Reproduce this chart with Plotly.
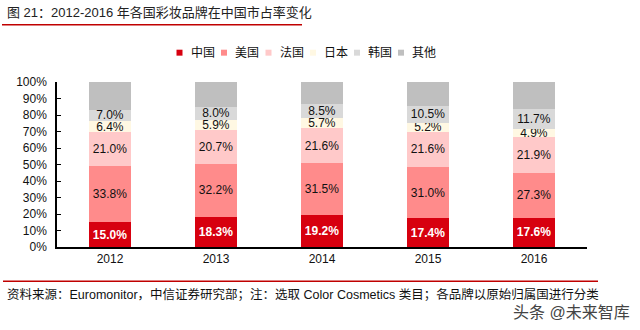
import plotly.graph_objects as go

W, H = 640, 330
ML, MR, MT, MB = 57, 53, 81.5, 82.5

years = ["2012", "2013", "2014", "2015", "2016"]
series_names = ["中国", "美国", "法国", "日本", "韩国", "其他"]
china = [15.0, 18.3, 19.2, 17.4, 17.6]
usa = [33.8, 32.2, 31.5, 31.0, 27.3]
france = [21.0, 20.7, 21.6, 21.6, 21.9]
japan = [6.4, 5.9, 5.7, 5.2, 4.9]
korea = [7.0, 8.0, 8.5, 10.5, 11.7]
other = [16.8, 14.9, 13.5, 14.3, 16.6]
colors = ["#D7000F", "#FF8B8B", "#FFC9C9", "#FFF8E3", "#D9D9D9", "#BFBFBF"]
series = [china, usa, france, japan, korea, other]
legend_swatch_x = [179.5, 224, 268.5, 313, 357, 401]

FONT = "Liberation Sans, Arial, Noto Sans CJK SC"
CJK = "Liberation Sans, Noto Sans CJK SC"

pw = W - ML - MR
ph = H - MT - MB
def px(x):
    return (x - ML) / pw
def py(y):
    return (H - MB - y) / ph

fig = go.Figure()
for i, (name, vals, col) in enumerate(zip(series_names, series, colors)):
    labeled = name != "其他"
    fig.add_trace(go.Bar(
        x=years, y=vals, name=name, marker=dict(color=col, line=dict(width=0)),
        text=[f"{v:.1f}%" for v in vals] if labeled else None,
        textposition="inside" if labeled else "none",
        insidetextanchor="middle", textangle=0,
        textfont=dict(family=FONT, size=12,
                      color="white" if name == "中国" else "#111111",
                      weight="bold" if name == "中国" else "normal"),
        showlegend=False, hoverinfo="skip",
    ))
    # legend entry: swatch + label
    sx = legend_swatch_x[i]
    fig.add_shape(type="rect", xref="paper", yref="paper",
                  x0=px(sx - 3), x1=px(sx + 3), y0=py(55), y1=py(49),
                  fillcolor=col, line=dict(width=0))
    fig.add_annotation(text=name, xref="paper", yref="paper",
                       x=px(sx + 9), y=py(52), xanchor="left", yanchor="middle",
                       showarrow=False,
                       font=dict(family=CJK, size=12, color="#111111"))

fig.update_layout(
    width=W, height=H, margin=dict(l=ML, r=MR, t=MT, b=MB),
    barmode="stack", bargap=0.6,
    paper_bgcolor="white", plot_bgcolor="white",
    font=dict(family=FONT, size=12, color="#111111"),
    uniformtext=dict(minsize=12, mode="show"),
    showlegend=False,
    xaxis=dict(showline=True, linecolor="black", linewidth=1.5, ticks="",
               tickfont=dict(size=12), showgrid=False, zeroline=False),
    yaxis=dict(range=[0, 100], dtick=10, ticksuffix="%", showline=True,
               linecolor="black", linewidth=1.5, ticks="inside", ticklen=4,
               tickcolor="black", showgrid=False, zeroline=False,
               tickfont=dict(size=12), ticklabelstandoff=6),
)

fig.add_annotation(text="图 21：2012-2016 年各国彩妆品牌在中国市占率变化",
                   xref="paper", yref="paper", x=px(5), y=py(12),
                   xanchor="left", yanchor="middle", showarrow=False,
                   font=dict(family=CJK, size=13, color="#222222"))
fig.add_shape(type="line", xref="paper", yref="paper", x0=px(2), x1=px(302),
              y0=py(24), y1=py(24), line=dict(color="#C00000", width=1.5))
fig.add_shape(type="line", xref="paper", yref="paper", x0=px(3), x1=px(598),
              y0=py(282), y1=py(282), line=dict(color="#C00000", width=1.5))
fig.add_annotation(text="资料来源：Euromonitor，中信证券研究部；注：选取 Color Cosmetics 类目；各品牌以原始归属国进行分类",
                   xref="paper", yref="paper", x=px(5), y=py(295),
                   xanchor="left", yanchor="middle", showarrow=False,
                   font=dict(family=CJK, size=12.5, color="#111111"))
fig.add_annotation(text="头条 @未来智库",
                   xref="paper", yref="paper", x=px(632), y=py(313),
                   xanchor="right", yanchor="middle", showarrow=False,
                   font=dict(family=CJK, size=16, color="#444444"))

fig.write_html("out.html")
